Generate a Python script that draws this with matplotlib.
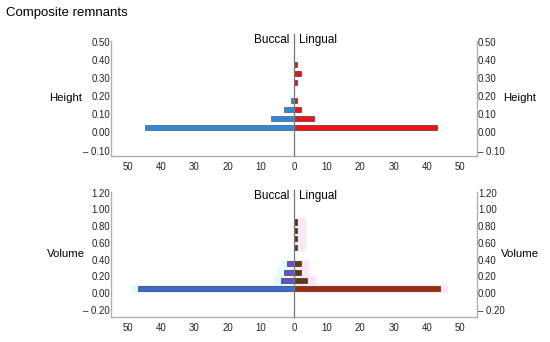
import matplotlib.pyplot as plt
from matplotlib.ticker import FixedLocator, FuncFormatter

plt.rcParams['font.family'] = ['Liberation Sans', 'DejaVu Sans']

# Height panel (bin centres, counts)
height_bins = [0.025, 0.075, 0.125, 0.175, 0.275, 0.325, 0.375]
height_buccal = [45, 7, 3, 1, 0, 0, 0]
height_lingual = [43, 6, 2, 1, 1, 2, 1]
height_ticks = [-0.10, 0.00, 0.10, 0.20, 0.30, 0.40, 0.50]

# Volume panel
volume_bins = [0.05, 0.15, 0.25, 0.35, 0.55, 0.65, 0.75, 0.85]
volume_buccal = [47, 4, 3, 2, 0, 0, 0, 0]
volume_lingual = [44, 4, 2, 2, 1, 1, 1, 1]
volume_ticks = [-0.20, 0.00, 0.20, 0.40, 0.60, 0.80, 1.00, 1.20]

x_ticks = [-50, -40, -30, -20, -10, 0, 10, 20, 30, 40, 50]

fig = plt.figure(figsize=(5.5, 3.42), dpi=100)
ax1 = fig.add_axes([0.2025, 0.544, 0.664, 0.336])
ax2 = fig.add_axes([0.2025, 0.073, 0.664, 0.366])

fig.text(0.011, 0.963, 'Composite remnants', fontsize=9.5, va='center', ha='left')


def ylab(v):
    if abs(v) < 1e-9:
        return '0.00'
    if v < 0:
        return '\u2013 %.2f' % -v
    return '%.2f' % v


def style(ax, ticks, ylim, name, line_top):
    ax.set_xlim(-55, 55)
    ax.set_ylim(*ylim)
    ax.xaxis.set_major_locator(FixedLocator(x_ticks))
    ax.xaxis.set_major_formatter(FuncFormatter(lambda v, p: '%d' % abs(v)))
    ax.yaxis.set_major_locator(FixedLocator(ticks))
    ax.yaxis.set_major_formatter(FuncFormatter(lambda v, p: ylab(v)))
    ax.tick_params(axis='both', length=0, labelsize=6.9, colors='#222222')
    ax.tick_params(axis='x', pad=4)
    ax.tick_params(axis='y', pad=1, labelright=True)
    for s in ['left', 'right', 'bottom']:
        ax.spines[s].set_color('#b0b0b0')
        ax.spines[s].set_linewidth(1.0)
    ax.spines['top'].set_visible(False)
    ax.patch.set_alpha(0)
    ax.plot([0, 0], [ylim[0], line_top], color='#777777', lw=0.9, clip_on=False, zorder=5)
    ax.text(-1.5, line_top, 'Buccal', ha='right', va='top', fontsize=8.5)
    ax.text(1.5, line_top, 'Lingual', ha='left', va='top', fontsize=8.5)
    ax.text(-0.124, 0.5, name, transform=ax.transAxes, fontsize=8.2, ha='center', va='center')
    ax.text(1.119, 0.5, name, transform=ax.transAxes, fontsize=8.2, ha='center', va='center')


# top panel
ax1.barh(height_bins, [-v for v in height_buccal], height=0.028, color='#2a8ad8',
         edgecolor='#4a5a6a', linewidth=0.5, zorder=3)
ax1.barh(height_bins, height_lingual, height=0.028, color='#ec141c',
         edgecolor='#6a2a2a', linewidth=0.5, zorder=3)
style(ax1, height_ticks, (-0.13, 0.505), 'Height', 0.545)

# bottom panel: soft glow behind the non-empty bars
buc_glow = [-(v + 2) if v > 0 else 0 for v in volume_buccal]
lin_glow = [v + 2.5 if v > 0 else 0 for v in volume_lingual]
ax2.barh(volume_bins, buc_glow, height=0.1, color='#e2fbfb', linewidth=0, zorder=1)
ax2.barh(volume_bins, lin_glow, height=0.1, color='#fde6f7', linewidth=0, zorder=1)
buc_cols = ['#3e68d6'] + ['#6a4ed0'] * (len(volume_buccal) - 1)
lin_cols = ['#a3290e'] + ['#5c3c18'] * (len(volume_lingual) - 1)
ax2.barh(volume_bins, [-v for v in volume_buccal], height=0.06, color=buc_cols,
         edgecolor='#3a3a5a', linewidth=0.5, zorder=3)
ax2.barh(volume_bins, volume_lingual, height=0.06, color=lin_cols,
         edgecolor='#4a3010', linewidth=0.5, zorder=3)
style(ax2, volume_ticks, (-0.285, 1.21), 'Volume', 1.235)

fig.savefig('out.png', dpi=100)
